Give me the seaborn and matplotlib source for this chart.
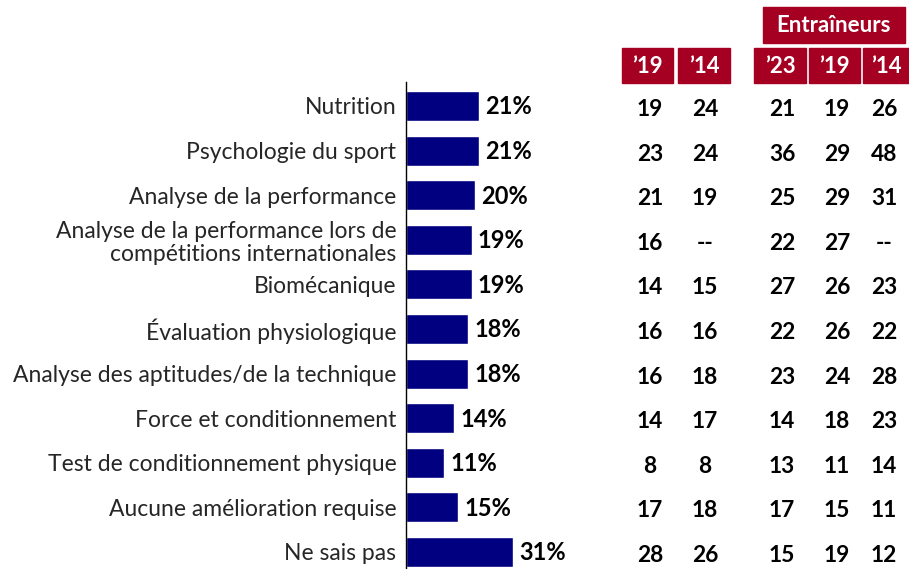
import seaborn as sns
import pandas as pd
import matplotlib.pyplot as plt
from matplotlib.patches import Rectangle
from matplotlib.transforms import blended_transform_factory

categories = [
    "Nutrition",
    "Psychologie du sport",
    "Analyse de la performance",
    "Analyse de la performance lors de\ncompétitions internationales",
    "Biomécanique",
    "Évaluation physiologique",
    "Analyse des aptitudes/de la technique",
    "Force et conditionnement",
    "Test de conditionnement physique",
    "Aucune amélioration requise",
    "Ne sais pas",
]
values = [21, 21, 20, 19, 19, 18, 18, 14, 11, 15, 31]

col_headers = ["\u201919", "\u201914", "\u201923", "\u201919", "\u201914"]
ath_19 = ["19", "23", "21", "16", "14", "16", "16", "14", "8", "17", "28"]
ath_14 = ["24", "24", "19", "--", "15", "16", "18", "17", "8", "18", "26"]
coach_23 = ["21", "36", "25", "22", "27", "22", "23", "14", "13", "17", "15"]
coach_19 = ["19", "29", "29", "27", "26", "26", "24", "18", "11", "15", "19"]
coach_14 = ["26", "48", "31", "--", "23", "22", "28", "23", "14", "11", "12"]
group_label = "Entraîneurs"

sns.set_theme(style="white")
plt.rcParams["font.family"] = ["Lato", "DejaVu Sans"]

NAVY = "#000080"
RED = "#A50021"
W, H = 909, 569

df = pd.DataFrame({"cat": categories, "val": values})

fig = plt.figure(figsize=(W / 100, H / 100), dpi=100)
ax = fig.add_axes([406 / W, 0, 1 - 406 / W, 1 - 82 / H])
sns.barplot(data=df, y="cat", x="val", orient="h", color=NAVY, width=0.67,
            saturation=1, ax=ax)
ax.set_xlim(0, (W - 406) / 3.46)
ax.set_ylim(10 + 17 / 44.6, -24 / 44.6)
ax.set_xlabel("")
ax.set_ylabel("")
ax.set_xticks([])
for s in ["top", "right", "bottom"]:
    ax.spines[s].set_visible(False)
ax.spines["left"].set_color("black")
ax.spines["left"].set_linewidth(1)
ax.tick_params(axis="y", length=0, pad=7, labelsize=16.5)
for lab in ax.get_yticklabels():
    lab.set_linespacing(1.15)

for i, v in enumerate(values):
    ax.text(v + 1.8, i + 0.02, f"{v}%", va="center", ha="left", fontsize=17,
            fontweight="bold", color="black")

trans = blended_transform_factory(fig.transFigure, ax.transData)
col_x = [650, 705, 782, 837, 884]
columns = [ath_19, ath_14, coach_23, coach_19, coach_14]
for cx, col in zip(col_x, columns):
    for i, t in enumerate(col):
        ax.text(cx / W, i + 0.08, t, transform=trans, ha="center", va="center",
                fontsize=16.4, fontweight="bold", color="black")

# header boxes
boxes = [(622, 673), (678, 730), (754, 806), (809, 860), (863, 909)]
for (x0, x1), lab in zip(boxes, col_headers):
    fig.patches.append(Rectangle((x0 / W, 1 - 83 / H), (x1 - x0) / W, 35 / H,
                                 transform=fig.transFigure, color=RED))
    fig.text((x0 + x1) / 2 / W, 1 - 66 / H, lab, ha="center", va="center",
             fontsize=16, fontweight="bold", color="white")
fig.patches.append(Rectangle((763 / W, 1 - 43 / H), 142 / W, 36 / H,
                             transform=fig.transFigure, color=RED))
fig.text(834 / W, 1 - 26 / H, group_label, ha="center", va="center",
         fontsize=16, fontweight="bold", color="white")

fig.savefig("out.png", dpi=100)
